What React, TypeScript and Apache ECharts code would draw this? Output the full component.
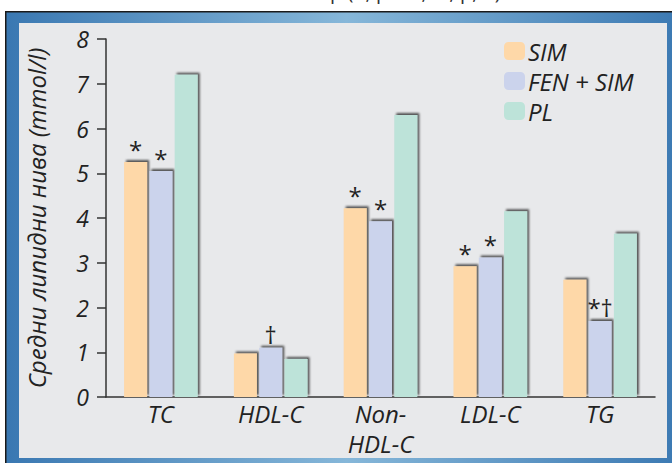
import React, { useEffect, useRef } from "react";
import * as echarts from "echarts";

const categories = ["TC", "HDL-C", "Non-\nHDL-C", "LDL-C", "TG"];
const seriesNames = ["SIM", "FEN + SIM", "PL"];
const simValues = [5.25, 0.97, 4.22, 2.92, 2.62];
const fenSimValues = [5.05, 1.1, 3.93, 3.12, 1.7];
const plValues = [7.2, 0.85, 6.3, 4.15, 3.65];
const simMarks = ["*", "", "*", "*", ""];
const fenSimMarks = ["*", "†", "*", "*", "*†"];
const plMarks = ["", "", "", "", ""];
const yTicks = { min: 0, max: 8, interval: 1 };
const yTitle = "Средни липидни нива (mmol/l)";
const topFragment = "p (n, p < 0,05; p, n)";

const colors = ["#fed8a8", "#cbd3ec", "#bde3d9"];

export default function App() {
  const ref = useRef<HTMLDivElement>(null);
  useEffect(() => {
    if (!ref.current) return;
    const chart = echarts.init(ref.current, undefined, { renderer: "svg" });
    const font = "'Open Sans', 'Noto Sans', sans-serif";
    const mk = (vals: number[], marks: string[]) =>
      vals.map((v, i) => ({
        value: v,
        label: { show: marks[i] !== "", formatter: marks[i] },
      }));
    const barBase = {
      type: "bar",
      barWidth: 23,
      barGap: "10%",
      label: {
        position: "top",
        distance: 1,
        fontSize: 24,
        color: "#222",
        fontFamily: font,
      },
    };
    const shadow = {
      shadowColor: "rgba(0,0,0,0.65)",
      shadowBlur: 2,
      shadowOffsetX: 2,
      shadowOffsetY: -2,
    };
    chart.setOption({
      animation: false,
      backgroundColor: "#ffffff",
      graphic: [
        {
          type: "text",
          left: 330,
          top: -19,
          style: { text: topFragment, fontSize: 20, fontFamily: font, fill: "#333" },
          z: 0,
        },
        {
          type: "rect",
          shape: { x: 5, y: 11, width: 680, height: 470 },
          style: { fill: "#1a1a1a" },
          z: -10,
          silent: true,
        },
        {
          type: "rect",
          shape: { x: 6.5, y: 12.5, width: 680, height: 470 },
          style: {
            fill: new echarts.graphic.LinearGradient(0, 0, 1, 0, [
              { offset: 0, color: "#3a78b2" },
              { offset: 0.5, color: "#86b7d9" },
              { offset: 1, color: "#3a78b2" },
            ]),
          },
          z: -9,
          silent: true,
        },
        {
          type: "rect",
          shape: { x: 19, y: 23, width: 648, height: 435 },
          style: { fill: "#e8e9eb" },
          z: -8,
          silent: true,
        },
      ],
      grid: { left: 106, right: 17, top: 39, bottom: 66 },
      legend: {
        data: seriesNames,
        orient: "vertical",
        left: 499,
        top: 33,
        itemWidth: 21,
        itemHeight: 18,
        itemGap: 4,
        textStyle: {
          fontSize: 24,
          lineHeight: 26,
          fontStyle: "italic",
          color: "#222",
          fontFamily: font,
          padding: [0, 0, 0, -2],
        },
      },
      xAxis: {
        type: "category",
        data: categories,
        axisLine: { lineStyle: { color: "#333", width: 1.5 } },
        axisTick: { show: false },
        axisLabel: {
          fontSize: 24,
          fontStyle: "italic",
          color: "#222",
          fontFamily: font,
          lineHeight: 30,
          margin: 1,
        },
      },
      yAxis: {
        type: "value",
        min: yTicks.min,
        max: yTicks.max,
        interval: yTicks.interval,
        name: yTitle,
        nameLocation: "middle",
        nameGap: 58,
        nameRotate: 90,
        nameTextStyle: { fontSize: 24, fontStyle: "italic", color: "#222", fontFamily: font },
        axisLine: { show: true, lineStyle: { color: "#333", width: 1.5 } },
        axisTick: { show: true, length: 9, lineStyle: { color: "#333", width: 1.5 } },
        splitLine: { show: false },
        axisLabel: { fontSize: 23, fontStyle: "italic", color: "#222", fontFamily: font, margin: 17 },
      },
      series: [
        { ...barBase, name: seriesNames[0], data: mk(simValues, simMarks), itemStyle: { color: colors[0], ...shadow } },
        { ...barBase, name: seriesNames[1], data: mk(fenSimValues, fenSimMarks), itemStyle: { color: colors[1], ...shadow } },
        { ...barBase, name: seriesNames[2], data: mk(plValues, plMarks), itemStyle: { color: colors[2], ...shadow } },
      ],
    });
    return () => chart.dispose();
  }, []);
  return (
    <div
      ref={ref}
      style={{ position: "absolute", left: 0, top: 0, width: 672, height: 463 }}
    />
  );
}
